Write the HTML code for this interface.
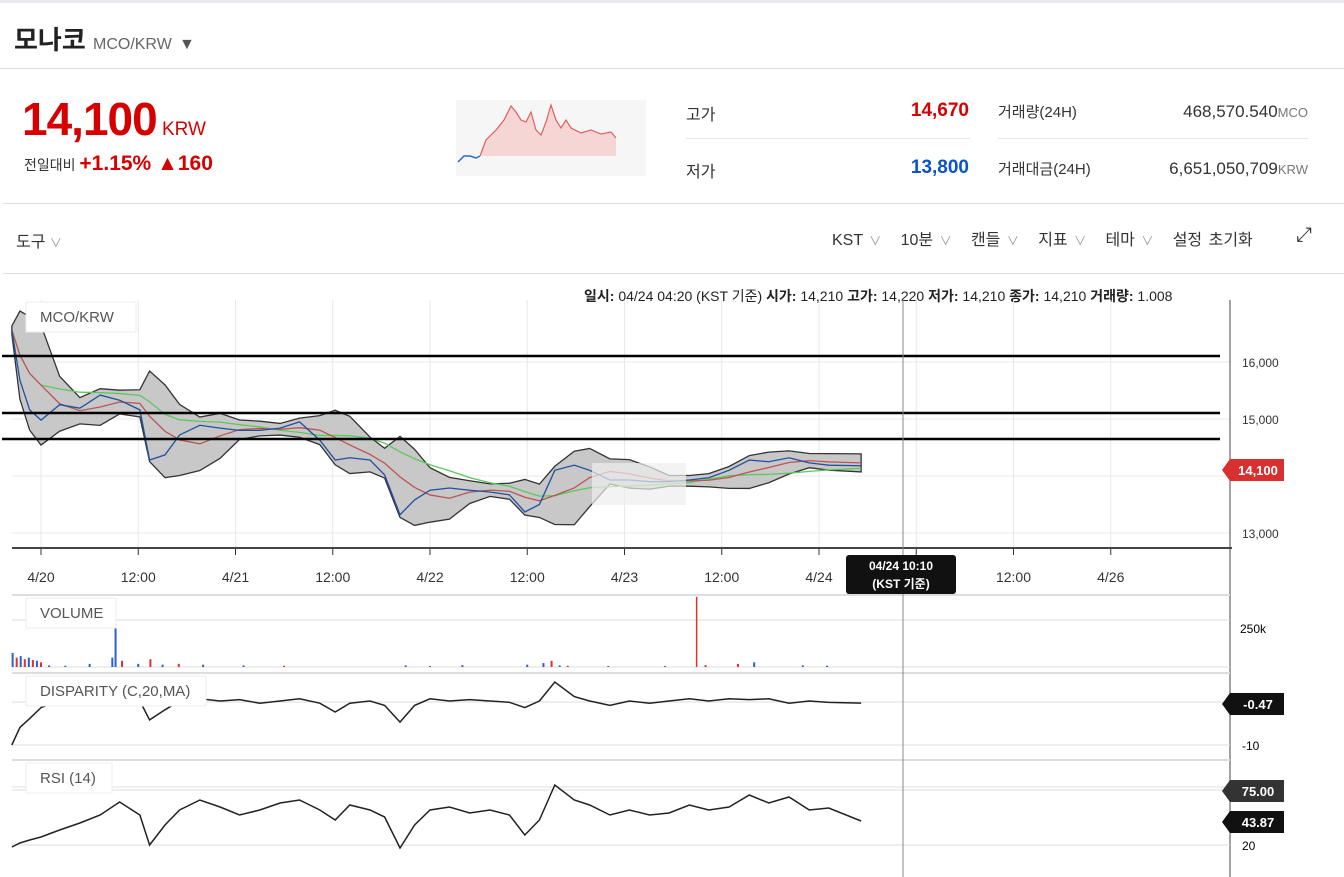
<!DOCTYPE html>
<html><head><meta charset="utf-8"><style>
body{margin:0;width:1344px;height:877px;overflow:hidden;background:#fff;font-family:"Liberation Sans","Noto Sans CJK KR",sans-serif;color:#333;position:relative}
.a{position:absolute;white-space:nowrap}
.r{text-align:right}
</style></head><body>
<div class="a" style="left:0;top:0;width:1344px;height:3px;background:#e8e8ee"></div>
<div class="a" style="left:14px;top:20px;font-size:26px;font-weight:bold;color:#222">모나코 <span style="font-size:16px;font-weight:normal;color:#666">MCO/KRW</span> <span style="font-size:16px;color:#555">▼</span></div>
<div class="a" style="left:0;top:68px;width:1344px;height:1px;background:#ddd"></div>
<div class="a" style="left:22px;top:92px;font-size:46px;font-weight:bold;color:#d60000;letter-spacing:-1px">14,100<span style="font-size:19px;font-weight:normal;letter-spacing:0"> KRW</span></div>
<div class="a" style="left:24px;top:152px;font-size:14px;color:#333">전일대비 <span style="font-size:21px;font-weight:bold;color:#d60000">+1.15% ▲160</span></div>
<svg class="a" style="left:456px;top:100px" width="190" height="76"><rect width="190" height="76" fill="#f6f6f6"/><polygon points="24,56 30,40 40,30 48,20 55,6 60,12 65,20 70,22 75,12 80,30 85,35 90,22 95,5 100,20 105,28 110,20 115,28 125,33 135,30 145,34 155,32 160,38 160,56" fill="#f6d5d5"/><polyline points="2,62 8,56 14,56 20,58 24,56" fill="none" stroke="#2a6ad0" stroke-width="1.5"/><polyline points="24,56 30,40 40,30 48,20 55,6 60,12 65,20 70,22 75,12 80,30 85,35 90,22 95,5 100,20 105,28 110,20 115,28 125,33 135,30 145,34 155,32 160,38" fill="none" stroke="#e06060" stroke-width="1.2"/></svg>
<div class="a" style="left:686px;top:101px;font-size:16px">고가</div>
<div class="a r" style="left:869px;width:100px;top:100px;font-size:19px;font-weight:bold;color:#d60000">14,670</div>
<div class="a" style="left:686px;top:138px;width:284px;height:1px;background:#e5e5e5"></div>
<div class="a" style="left:686px;top:158px;font-size:16px">저가</div>
<div class="a r" style="left:869px;width:100px;top:157px;font-size:19px;font-weight:bold;color:#0a53c9">13,800</div>
<div class="a" style="left:998px;top:101px;font-size:15px">거래량(24H)</div>
<div class="a r" style="left:1108px;width:200px;top:102px;font-size:17px">468,570.540<span style="font-size:13px;color:#777">MCO</span></div>
<div class="a" style="left:998px;top:138px;width:310px;height:1px;background:#e5e5e5"></div>
<div class="a" style="left:998px;top:158px;font-size:15px">거래대금(24H)</div>
<div class="a r" style="left:1108px;width:200px;top:159px;font-size:17px">6,651,050,709<span style="font-size:13px;color:#777">KRW</span></div>
<div class="a" style="left:3px;top:203px;width:1341px;height:69px;background:#fff;border-top:1px solid #ddd;border-bottom:1px solid #ddd"></div>
<div class="a" style="left:16px;top:228px;font-size:16px">도구 <span style="color:#999;font-size:12px">∨</span></div>
<div class="a" style="left:832px;top:226px;font-size:16px;word-spacing:2px">KST <span style="color:#999;font-size:12px">∨</span>&nbsp;&nbsp; 10분 <span style="color:#999;font-size:12px">∨</span>&nbsp;&nbsp; 캔들 <span style="color:#999;font-size:12px">∨</span>&nbsp;&nbsp; 지표 <span style="color:#999;font-size:12px">∨</span>&nbsp;&nbsp; 테마 <span style="color:#999;font-size:12px">∨</span>&nbsp;&nbsp; 설정 초기화</div>
<div class="a" style="left:1296px;top:224px;font-size:20px">⤢</div>
<div class="a" style="left:584px;top:286px;font-size:14px;color:#222"><b>일시:</b> 04/24 04:20 (KST 기준) <b>시가:</b> 14,210 <b>고가:</b> 14,220 <b>저가:</b> 14,210 <b>종가:</b> 14,210 <b>거래량:</b> 1.008</div>
<svg class="a" id="chart" style="left:0;top:0" width="1344" height="877"></svg>
<script>
const times=[-3.6,-2.6,-1.4,0,2.3,4.8,7.3,9.7,12.2,13.4,15.3,17.1,19.6,22.1,24.5,27,29.5,31.9,34.4,36.3,38.1,40.6,42.4,44.3,46.1,48,50.4,52.9,55.4,57.8,59.7,61.5,63.4,65.8,67.7,70.2,72.6,75.1,77.5,80,82.4,84.9,87.4,89.8,92.3,94.8,97.2,101.2];
const prices=[16560,15680,15160,14980,15250,15190,15420,15330,15160,14280,14370,14720,14890,14840,14800,14800,14840,14950,14630,14280,14320,14280,14020,13320,13580,13750,13790,13750,13720,13670,13370,13500,14100,14190,14100,13930,13930,13900,13900,13930,13970,14100,14280,14250,14320,14230,14190,14180];
const disparity=[-10,-6,-4,-1.5,0,0.5,1,0.5,0,-4.3,-2,0,0.5,0,0.3,-0.5,0,0.5,-0.5,-2.5,-0.5,0,-1,-4.8,-1,0.5,0,0.3,0,-0.3,-1.5,0,4.3,1,0,-1,0,-0.5,0,0.5,0,0.5,0.3,0.5,-0.5,0,-0.3,-0.47];
const rsi=[18,22,25,28,35,42,50,63,50,20,40,55,65,58,50,55,62,65,55,45,60,55,48,17,40,55,58,52,55,50,30,45,80,65,60,50,55,50,52,60,55,58,70,62,68,55,57,44];
const volTimes=[-3.5,-3,-2.5,-2,-1.5,-1,-0.5,0,1,3,6,8.8,9.2,10,12,13.5,15,17,20,25,30,45,48,52,60,62,63,64,65,70,77,80.9,82,86,88,94,97];
const volValues=[90,60,70,50,60,45,40,30,10,8,20,60,250,40,20,50,15,20,15,10,8,10,6,12,15,25,40,10,8,6,6,450,12,20,30,10,8];
const volUp=[0,1,0,1,0,1,0,1,0,0,0,0,0,1,0,1,0,1,0,0,1,0,0,0,0,0,1,0,1,0,0,1,1,1,0,0,0];
const priceTicks=[16000,15000,13000];
const dateTicks=[[0,"4/20"],[12,"12:00"],[24,"4/21"],[36,"12:00"],[48,"4/22"],[60,"12:00"],[72,"4/23"],[84,"12:00"],[96,"4/24"],[108,"4/25"],[120,"12:00"],[132,"4/26"]];
const svg=document.getElementById('chart');const NS='http://www.w3.org/2000/svg';
const X=t=>41+t*97.25/12, Y=p=>362+(16000-p)*0.057, YD=d=>701-d*4.4, YR=r=>790+(75-r), YV=v=>667-v*39/250;
function el(tag,at,name,txt){const e=document.createElementNS(NS,tag);for(const k in at)e.setAttribute(k,at[k]);


if(txt!==undefined)e.textContent=txt;svg.appendChild(e);return e;}
dateTicks.forEach(d=>{el('line',{x1:X(d[0]),x2:X(d[0]),y1:300,y2:548,stroke:'#e8e8e8'},'grid-v');el('line',{x1:X(d[0]),x2:X(d[0]),y1:548,y2:555,stroke:'#333'},'x-tick');el('text',{x:X(d[0]),y:582,'font-size':14,'text-anchor':'middle',fill:'#333'},'x-tick-label',d[1]);});
priceTicks.forEach(p=>{el('line',{x1:12,x2:1230,y1:Y(p),y2:Y(p),stroke:'#e8e8e8'},'grid-h');el('text',{x:1242,y:Y(p)+5,'font-size':12,fill:'#333'},'y-tick-label',p.toLocaleString());});
el('line',{x1:12,x2:1230,y1:476,y2:476,stroke:'#e8e8e8'},'grid-h');
el('line',{x1:12,x2:1232,y1:548,y2:548,stroke:'#444','stroke-width':2},'x-axis');
el('line',{x1:1230,x2:1230,y1:300,y2:877,stroke:'#444'},'y-axis');
[595,620,667,673,702,745,760,787,790,845].forEach(y=>el('line',{x1:12,x2:1230,y1:y,y2:y,stroke:'#ddd','stroke-width':y==595||y==760||y==673?2:1},'panel-line'));
function roll(w,f){return prices.map((_,i)=>{const s=prices.slice(Math.max(0,i-w+1),i+1);return f(s);});}
const mean=s=>s.reduce((a,b)=>a+b,0)/s.length;
const ma=roll(4,mean), ma2=roll(10,mean);
const sd=roll(4,s=>{const m=mean(s);return Math.sqrt(mean(s.map(v=>(v-m)**2)));});
const up=ma.map((m,i)=>m+1.6*sd[i]+70), lo=ma.map((m,i)=>m-1.6*sd[i]-70);
let poly=times.map((t,i)=>X(t)+','+Y(up[i])).join(' ')+' '+times.map((t,i)=>X(t)+','+Y(lo[i])).reverse().join(' ');
el('polygon',{points:poly,fill:'#c8c8c8',stroke:'#333','stroke-width':1.3},'bollinger-band');
const pl=a=>times.map((t,i)=>X(t)+','+Y(a[i])).join(' ');
el('polyline',{points:pl(ma2),fill:'none',stroke:'#5bc85b','stroke-width':1.3},'ma-long');
el('polyline',{points:pl(ma),fill:'none',stroke:'#b55','stroke-width':1.3},'ma-short');
el('polyline',{points:pl(prices),fill:'none',stroke:'#2050a0','stroke-width':1.3},'price-line');
el('rect',{x:592,y:463,width:94,height:42,fill:'#eee',opacity:0.7},'tooltip-ghost');
[356,413,439].forEach(y=>el('line',{x1:2,x2:1220,y1:y,y2:y,stroke:'#000','stroke-width':2.5},'drawn-horizontal-line'));
volTimes.forEach((t,i)=>el('line',{x1:X(t),x2:X(t),y1:667,y2:YV(volValues[i]),stroke:volUp[i]?'#e03030':'#2a60d0','stroke-width':i==31?1.5:2},'volume-bar'));
el('text',{x:1240,y:633,'font-size':12},'volume-tick','250k');
el('polyline',{points:times.map((t,i)=>X(t)+','+YD(disparity[i])).join(' '),fill:'none',stroke:'#222','stroke-width':1.5},'disparity-line');
el('text',{x:1242,y:750,'font-size':12},'disparity-tick','-10');
el('polyline',{points:times.map((t,i)=>X(t)+','+YR(rsi[i])).join(' '),fill:'none',stroke:'#222','stroke-width':1.5},'rsi-line');
el('text',{x:1242,y:850,'font-size':12},'rsi-tick','20');
[[26,302,'MCO/KRW',110],[26,598,'VOLUME',90],[26,676,'DISPARITY (C,20,MA)',180],[26,763,'RSI (14)',86]].forEach(l=>{el('rect',{x:l[0],y:l[1],width:l[3],height:30,fill:'#fff',stroke:'#eee'},'panel-label-box');el('text',{x:l[0]+14,y:l[1]+20,'font-size':15,fill:'#555'},'panel-label',l[2]);});
el('line',{x1:903,x2:903,y1:300,y2:877,stroke:'#888'},'crosshair');
el('rect',{x:846,y:555,width:110,height:39,rx:3,fill:'#111'},'crosshair-label-box');
el('text',{x:901,y:570,'font-size':12,fill:'#fff','text-anchor':'middle','font-weight':'bold'},'crosshair-time','04/24 10:10');
el('text',{x:901,y:588,'font-size':12,fill:'#fff','text-anchor':'middle','font-weight':'bold'},'crosshair-tz','(KST 기준)');
function tag(y,txt,fill,name){el('polygon',{points:`1222,${y} 1230,${y-11} 1284,${y-11} 1284,${y+11} 1230,${y+11}`,fill:fill},name+'-tag');el('text',{x:1258,y:y+5,'font-size':13,fill:'#fff','text-anchor':'middle','font-weight':'bold'},name+'-value',txt);}
tag(470,'14,100','#d83030','last-price');tag(704,'-0.47','#111','disparity');tag(791,'75.00','#333','rsi-upper');tag(822,'43.87','#111','rsi');
</script>
</body></html>
